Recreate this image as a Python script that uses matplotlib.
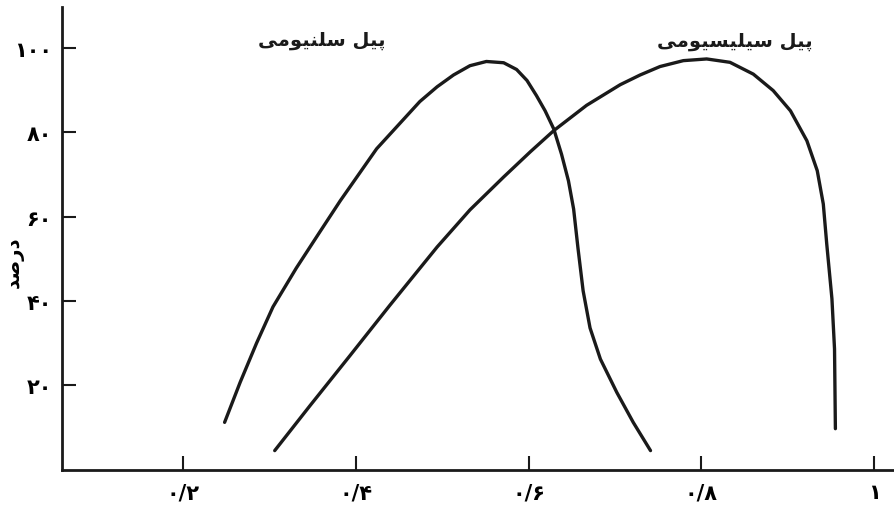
import matplotlib
matplotlib.use("Agg")
import matplotlib.pyplot as plt

# values (x: relative, y: percent)
selenium_x = [0.248, 0.266, 0.285, 0.304, 0.331, 0.358, 0.382, 0.424, 0.474,
              0.494, 0.513, 0.532, 0.551, 0.571, 0.586, 0.598, 0.609, 0.619,
              0.629, 0.638, 0.646, 0.652, 0.657, 0.663, 0.671, 0.683, 0.702,
              0.721, 0.741]
selenium_y = [11.2, 20.7, 30.0, 38.6, 47.8, 56.3, 63.8, 76.1, 87.3,
              90.8, 93.6, 95.8, 96.8, 96.5, 94.9, 92.3, 88.7, 85.1,
              80.8, 74.8, 68.5, 61.8, 52.6, 42.4, 33.6, 26.2, 18.3,
              11.2, 4.5]

silicon_x = [0.306, 0.347, 0.393, 0.439, 0.494, 0.532, 0.571, 0.602, 0.629,
             0.667, 0.706, 0.729, 0.752, 0.779, 0.806, 0.833, 0.860, 0.883,
             0.903, 0.922, 0.934, 0.941, 0.945, 0.951, 0.954, 0.955]
silicon_y = [4.5, 15.2, 27.0, 38.9, 52.8, 61.6, 69.4, 75.4, 80.4,
             86.4, 91.3, 93.6, 95.6, 97.0, 97.4, 96.6, 93.8, 89.9,
             85.1, 78.0, 70.9, 63.0, 53.5, 40.5, 28.6, 9.7]

y_ticks = [100, 80, 60, 40, 20]
y_labels = ["۱۰۰", "۸۰", "۶۰", "۴۰", "۲۰"]
x_ticks = [0.2, 0.4, 0.6, 0.8, 1.0]
x_labels = ["۰/۲", "۰/۴", "۰/۶", "۰/۸", "۱"]

# matplotlib has no arabic shaping, so the words are written with
# presentation forms in visual (left to right) order
# "پیل سلنیومی"
label_selenium = "\ufbfd\ufee3\ufeee\ufbff\ufee8\ufee0\ufeb3 \ufede\ufbff\ufb58"
# "پیل سیلیسیومی"
label_silicon = "\ufbfd\ufee3\ufeee\ufbff\ufeb4\ufbff\ufee0\ufbff\ufeb3 \ufede\ufbff\ufb58"
# "درصد"
label_percent = "\ufeaa\ufebb\ufead\ufea9"

plt.rcParams['font.family'] = ['DejaVu Sans']

fig = plt.figure(figsize=(8.95, 5.06), dpi=100)
ax = fig.add_axes([0.069, 0.07, 0.931, 0.914])

ax.plot(selenium_x, selenium_y, color="#1a1a1a", lw=2.4,
        solid_joinstyle="round", solid_capstyle="round")
ax.plot(silicon_x, silicon_y, color="#1a1a1a", lw=2.4,
        solid_joinstyle="round", solid_capstyle="round")

ax.set_xlim(0.0595, 1.024)
ax.set_ylim(0, 109.7)

for s in ["top", "right"]:
    ax.spines[s].set_visible(False)
for s in ["left", "bottom"]:
    ax.spines[s].set_linewidth(2.0)
    ax.spines[s].set_color("#1a1a1a")

ax.set_yticks(y_ticks)
ax.set_yticklabels(y_labels, fontsize=15, fontweight="bold")
ax.set_xticks(x_ticks)
ax.set_xticklabels(x_labels, fontsize=15, fontweight="bold")
ax.tick_params(axis="both", direction="in", length=10, width=1.5, color="#1a1a1a")
ax.tick_params(axis="y", pad=7)
ax.tick_params(axis="x", pad=9)

ax.text(0.361, 102.1, label_selenium, ha="center", va="center",
        fontsize=14, fontweight="bold", color="#1a1a1a")
ax.text(0.839, 101.7, label_silicon, ha="center", va="center",
        fontsize=14, fontweight="bold", color="#1a1a1a")
ax.set_ylabel(label_percent, fontsize=14, fontweight="bold")
ax.yaxis.set_label_coords(-0.046, 0.45)

fig.savefig("out.png", dpi=100)
